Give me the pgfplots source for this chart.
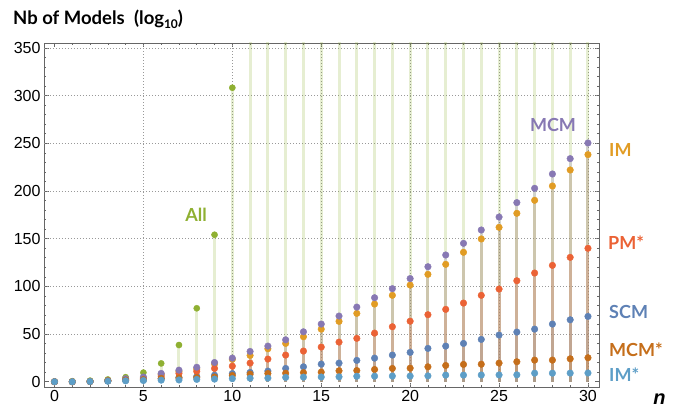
\documentclass[border=0pt]{standalone}
\usepackage{pgfplots}
\pgfplotsset{compat=1.18}
\usepackage{pgfplotstable}
\usepackage{fontspec}
\setmainfont{Liberation Sans}
\newfontfamily\labfont{Lato}
\definecolor{cSCM}{HTML}{5E81B5}
\definecolor{cIM}{HTML}{E19C24}
\definecolor{cAll}{HTML}{8FB032}
\definecolor{cPM}{HTML}{EB6235}
\definecolor{cMCM}{HTML}{8778B3}
\definecolor{cMCMs}{HTML}{C56E1A}
\definecolor{cIMs}{HTML}{5D9EC7}
\pgfplotstableread{
n  SCM   IM     All        PM     MCM    MCMs  IMs
0  0.0   0.0    0.301      0.0    0.0    0.0   0.0
1  0.0   0.0    0.602      0.0    0.0    0.0   0.0
2  0.3   0.3    1.204      0.3    0.3    0.3   0.3
3  0.8   1.0    2.408      1.2    1.2    1.0   0.6
4  1.5   3.0    4.817      2.2    3.2    1.8   1.0
5  2.0   4.2    9.633      3.5    5.0    2.3   1.3
6  3.2   7.8    19.27      6.0    8.8    3.6   1.7
7  4.6   10.8   38.53      8.8    12.2   4.0   1.9
8  5.6   13.4   77.06      10.9   15.2   4.4   2.5
9  6.9   18.7   154.1      14.0   20.2   5.0   2.8
10 8.6   23.5   308.2      16.4   24.8   6.6   3.3
11 9.8   27.6   616.5      19.6   31.8   8.0   3.8
12 11.2  34.6   1233.0     23.8   37.4   8.7   3.9
13 14.0  40.2   2466.0     28.0   44.0   9.0   4.6
14 15.7  47.2   4932.0     32.2   52.4   9.6   4.9
15 18.5  55.2   9864.0     36.4   60.5   10.1  5.0
16 19.6  63.3   19728.0    41.6   68.9   11.5  5.2
17 22.4  71.7   39457.0    45.5   78.3   11.8  5.8
18 24.8  81.5   78913.0    51.0   88.1   12.9  5.9
19 28.0  90.6   157826.0   57.7   97.6   14.0  6.0
20 30.8  101.4  315653.0   63.5   108.2  14.3  6.0
21 35.0  112.6  631306.0   70.3   120.6  15.7  6.2
22 37.4  123.1  1262612.0  75.9   132.9  17.1  7.0
23 40.2  135.7  2525223.0  82.5   145.1  18.2  7.0
24 44.4  149.7  5050446.0  90.6   159.1  18.4  7.1
25 49.0  161.9  10100891.0 97.2   172.7  19.6  7.2
26 52.1  176.6  20201781.0 105.9  187.8  21.0  7.3
27 55.2  190.2  40403563.0 114.0  202.8  22.7  9.0
28 60.5  205.2  80807125.0 122.0  217.8  22.7  9.0
29 65.0  222.0  161614250.0 130.4 233.9  24.1  9.1
30 68.5  238.1  323228500.0 139.9 250.3  25.2  9.2
}\data
\begin{document}
\begin{tikzpicture}[x=1pt,y=1pt]
\path[use as bounding box] (-44,-21.3) rectangle (638,387.7);
\begin{axis}[
  at={(0,0)}, anchor=south west,
  scale only axis, width=555pt, height=344.7pt,
  xmin=-0.59, xmax=30.62, ymin=-6.2, ymax=355.1,
  axis line style={draw=black!60, line width=0.6pt},
  xtick={0,5,...,30}, ytick={0,50,...,350},
  minor x tick num=4, minor y tick num=4,
  tick align=inside, major tick length=4.5pt, minor tick length=2.5pt,
  every tick/.style={black!60, line width=0.6pt},
  extra x ticks={5,10,...,30}, extra y ticks={50,100,...,350},
  extra tick style={grid=major, major tick length=0pt, xticklabels={}, yticklabels={}},
  major grid style={black!40, line width=0.7pt, dash pattern=on 0.8pt off 2.2pt},
  ticklabel style={font=\fontsize{16}{16}\selectfont},
  xticklabel style={yshift=1pt},
  /pgf/number format/assume math mode=true,
  clip=true,
]
\addplot[ycomb, draw=cSCM, opacity=0.22, line width=3pt] table[x=n,y=SCM]{\data};
\addplot[ycomb, draw=cIM, opacity=0.22, line width=3pt] table[x=n,y=IM]{\data};
\addplot[ycomb, draw=cAll, opacity=0.22, line width=3pt, restrict y to domain*=-10:500] table[x=n,y=All]{\data};
\addplot[ycomb, draw=cPM, opacity=0.22, line width=3pt] table[x=n,y=PM]{\data};
\addplot[ycomb, draw=cMCM, opacity=0.22, line width=3pt] table[x=n,y=MCM]{\data};
\addplot[ycomb, draw=cMCMs, opacity=0.22, line width=3pt] table[x=n,y=MCMs]{\data};
\addplot[ycomb, draw=cIMs, opacity=0.22, line width=3pt] table[x=n,y=IMs]{\data};
\addplot[only marks, mark=*, mark size=3.3pt, color=cSCM] table[x=n,y=SCM]{\data};
\addplot[only marks, mark=*, mark size=3.3pt, color=cIM] table[x=n,y=IM]{\data};
\addplot[only marks, mark=*, mark size=3.1pt, color=cAll, restrict y to domain*=-10:500] table[x=n,y=All]{\data};
\addplot[only marks, mark=*, mark size=3.3pt, color=cPM] table[x=n,y=PM]{\data};
\addplot[only marks, mark=*, mark size=3.3pt, color=cMCM] table[x=n,y=MCM]{\data};
\addplot[only marks, mark=*, mark size=3.3pt, color=cMCMs] table[x=n,y=MCMs]{\data};
\addplot[only marks, mark=*, mark size=3.3pt, color=cIMs] table[x=n,y=IMs]{\data};
\end{axis}
\node[anchor=base west, inner sep=0pt, font=\labfont\bfseries\fontsize{18.5}{20}\selectfont] at (-31,362.7) {Nb of Models\enspace(log\raisebox{-3.5pt}{\fontsize{12}{12}\selectfont 10})};
\begin{scope}[every node/.style={inner sep=0pt, font=\labfont\bfseries\fontsize{18}{20}\selectfont}]
\node[text=cAll] at (152,172.7) {All};
\node[text=cMCM] at (509,262.7) {MCM};
\node[text=cIM, anchor=west] at (565,237.7) {IM};
\node[text=cPM, anchor=west] at (564,144.7) {PM*};
\node[text=cSCM, anchor=west] at (565,75.7) {SCM};
\node[text=cMCMs, anchor=west] at (565,37.7) {MCM*};
\node[text=cIMs, anchor=west] at (565,12.7) {IM*};
\end{scope}
\node[inner sep=0pt, font=\bfseries\itshape\fontsize{20}{20}\selectfont] at (615.5,-11.8) {n};
\end{tikzpicture}
\end{document}
